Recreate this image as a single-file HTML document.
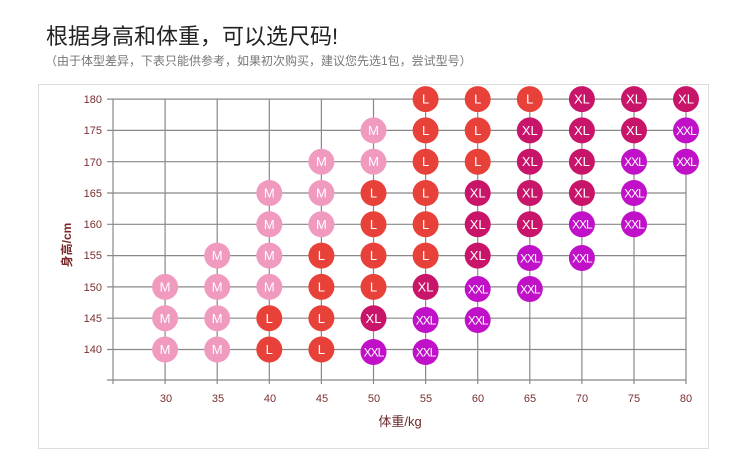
<!DOCTYPE html>
<html><head><meta charset="utf-8"><style>
body{margin:0;background:#fff;width:750px;height:465px;overflow:hidden;font-family:"Liberation Sans","Noto Sans CJK SC",sans-serif}
</style></head><body>
<svg width="750" height="465" xmlns="http://www.w3.org/2000/svg" font-family="Liberation Sans, Noto Sans CJK SC, sans-serif">
<text x="46" y="44" font-size="22" fill="#222">根据身高和体重，可以选尺码!</text>
<text x="45" y="65" font-size="12" fill="#777">（由于体型差异，下表只能供参考，如果初次购买，建议您先选1包，尝试型号）</text>
<rect x="38.5" y="84.5" width="670" height="364" fill="none" stroke="#ddd"/>
<g stroke="#888" stroke-width="1.2">
<line x1="107" y1="99.1" x2="686" y2="99.1"/><line x1="107" y1="130.4" x2="686" y2="130.4"/><line x1="107" y1="161.7" x2="686" y2="161.7"/><line x1="107" y1="193" x2="686" y2="193"/><line x1="107" y1="224.3" x2="686" y2="224.3"/><line x1="107" y1="255.6" x2="686" y2="255.6"/><line x1="107" y1="286.9" x2="686" y2="286.9"/><line x1="107" y1="318.2" x2="686" y2="318.2"/><line x1="107" y1="349.5" x2="686" y2="349.5"/><line x1="107" y1="380" x2="686" y2="380"/>
<line x1="113" y1="99" x2="113" y2="384"/><line x1="165.1" y1="99" x2="165.1" y2="384"/><line x1="217.2" y1="99" x2="217.2" y2="384"/><line x1="269.3" y1="99" x2="269.3" y2="384"/><line x1="321.4" y1="99" x2="321.4" y2="384"/><line x1="373.5" y1="99" x2="373.5" y2="384"/><line x1="425.6" y1="99" x2="425.6" y2="384"/><line x1="477.7" y1="99" x2="477.7" y2="384"/><line x1="529.8" y1="99" x2="529.8" y2="384"/><line x1="581.9" y1="99" x2="581.9" y2="384"/><line x1="634" y1="99" x2="634" y2="384"/><line x1="686" y1="99" x2="686" y2="384"/>
</g>
<g font-size="11" fill="#7a3030" text-anchor="end">
<text x="102" y="103">180</text><text x="102" y="134">175</text><text x="102" y="166">170</text><text x="102" y="197">165</text><text x="102" y="228">160</text><text x="102" y="259">155</text><text x="102" y="291">150</text><text x="102" y="322">145</text><text x="102" y="353">140</text>
</g>
<g font-size="11" fill="#7a3030" text-anchor="middle">
<text x="166" y="402">30</text><text x="218" y="402">35</text><text x="270" y="402">40</text><text x="322" y="402">45</text><text x="374" y="402">50</text><text x="426" y="402">55</text><text x="478" y="402">60</text><text x="530" y="402">65</text><text x="582" y="402">70</text><text x="634" y="402">75</text><text x="686" y="402">80</text>
</g>
<text x="400" y="426" font-size="13" fill="#6a2a2a" text-anchor="middle">体重/kg</text>
<text transform="translate(71,245) rotate(-90)" font-size="12" fill="#7a2a2a" text-anchor="middle" font-weight="bold">身高/cm</text>
<g font-size="13" fill="#fff" text-anchor="middle" stroke="none">
<!-- M -->
<g fill="#f09ac0"><circle cx="165.1" cy="349.5" r="13"/><circle cx="217.2" cy="349.5" r="13"/><circle cx="165.1" cy="318.2" r="13"/><circle cx="217.2" cy="318.2" r="13"/><circle cx="165.1" cy="286.9" r="13"/><circle cx="217.2" cy="286.9" r="13"/><circle cx="269.3" cy="286.9" r="13"/><circle cx="217.2" cy="255.6" r="13"/><circle cx="269.3" cy="255.6" r="13"/><circle cx="269.3" cy="224.3" r="13"/><circle cx="321.4" cy="224.3" r="13"/><circle cx="269.3" cy="193" r="13"/><circle cx="321.4" cy="193" r="13"/><circle cx="321.4" cy="161.7" r="13"/><circle cx="373.5" cy="161.7" r="13"/><circle cx="373.5" cy="130.4" r="13"/></g>
<g fill="#e8413a"><circle cx="269.3" cy="349.5" r="13"/><circle cx="321.4" cy="349.5" r="13"/><circle cx="269.3" cy="318.2" r="13"/><circle cx="321.4" cy="318.2" r="13"/><circle cx="321.4" cy="286.9" r="13"/><circle cx="373.5" cy="286.9" r="13"/><circle cx="321.4" cy="255.6" r="13"/><circle cx="373.5" cy="255.6" r="13"/><circle cx="425.6" cy="255.6" r="13"/><circle cx="373.5" cy="224.3" r="13"/><circle cx="425.6" cy="224.3" r="13"/><circle cx="373.5" cy="193" r="13"/><circle cx="425.6" cy="193" r="13"/><circle cx="425.6" cy="161.7" r="13"/><circle cx="477.7" cy="161.7" r="13"/><circle cx="425.6" cy="130.4" r="13"/><circle cx="477.7" cy="130.4" r="13"/><circle cx="425.6" cy="99.1" r="13"/><circle cx="477.7" cy="99.1" r="13"/><circle cx="529.8" cy="99.1" r="13"/></g>
<g fill="#c8156a"><circle cx="373.5" cy="318.2" r="13"/><circle cx="425.6" cy="286.9" r="13"/><circle cx="477.7" cy="255.6" r="13"/><circle cx="477.7" cy="224.3" r="13"/><circle cx="529.8" cy="224.3" r="13"/><circle cx="477.7" cy="193" r="13"/><circle cx="529.8" cy="193" r="13"/><circle cx="581.9" cy="193" r="13"/><circle cx="529.8" cy="161.7" r="13"/><circle cx="581.9" cy="161.7" r="13"/><circle cx="529.8" cy="130.4" r="13"/><circle cx="581.9" cy="130.4" r="13"/><circle cx="634" cy="130.4" r="13"/><circle cx="581.9" cy="99.1" r="13"/><circle cx="634" cy="99.1" r="13"/><circle cx="686" cy="99.1" r="13"/></g>
<g fill="#c010c8"><circle cx="373.5" cy="352" r="13"/><circle cx="425.6" cy="352" r="13"/><circle cx="425.6" cy="320" r="13"/><circle cx="477.7" cy="320" r="13"/><circle cx="477.7" cy="289" r="13"/><circle cx="529.8" cy="289" r="13"/><circle cx="529.8" cy="258" r="13"/><circle cx="581.9" cy="258" r="13"/><circle cx="581.9" cy="224.3" r="13"/><circle cx="634" cy="224.3" r="13"/><circle cx="634" cy="193" r="13"/><circle cx="634" cy="161.7" r="13"/><circle cx="686" cy="161.7" r="13"/><circle cx="686" cy="130.4" r="13"/></g>
<!-- labels -->
<text x="165.1" y="354">M</text><text x="217.2" y="354">M</text><text x="165.1" y="323">M</text><text x="217.2" y="323">M</text><text x="165.1" y="291.5">M</text><text x="217.2" y="291.5">M</text><text x="269.3" y="291.5">M</text><text x="217.2" y="260">M</text><text x="269.3" y="260">M</text><text x="269.3" y="229">M</text><text x="321.4" y="229">M</text><text x="269.3" y="197.5">M</text><text x="321.4" y="197.5">M</text><text x="321.4" y="166">M</text><text x="373.5" y="166">M</text><text x="373.5" y="135">M</text>
<text x="269.3" y="354">L</text><text x="321.4" y="354">L</text><text x="269.3" y="323">L</text><text x="321.4" y="323">L</text><text x="321.4" y="291.5">L</text><text x="373.5" y="291.5">L</text><text x="321.4" y="260">L</text><text x="373.5" y="260">L</text><text x="425.6" y="260">L</text><text x="373.5" y="229">L</text><text x="425.6" y="229">L</text><text x="373.5" y="197.5">L</text><text x="425.6" y="197.5">L</text><text x="425.6" y="166">L</text><text x="477.7" y="166">L</text><text x="425.6" y="135">L</text><text x="477.7" y="135">L</text><text x="425.6" y="103.6">L</text><text x="477.7" y="103.6">L</text><text x="529.8" y="103.6">L</text>
<text x="373.5" y="323">XL</text><text x="425.6" y="291.5">XL</text><text x="477.7" y="260">XL</text><text x="477.7" y="229">XL</text><text x="529.8" y="229">XL</text><text x="477.7" y="197.5">XL</text><text x="529.8" y="197.5">XL</text><text x="581.9" y="197.5">XL</text><text x="529.8" y="166">XL</text><text x="581.9" y="166">XL</text><text x="529.8" y="135">XL</text><text x="581.9" y="135">XL</text><text x="634" y="135">XL</text><text x="581.9" y="103.6">XL</text><text x="634" y="103.6">XL</text><text x="686" y="103.6">XL</text>
<g font-size="12" letter-spacing="-1"><text x="373.5" y="356.5">XXL</text><text x="425.6" y="356.5">XXL</text><text x="425.6" y="324.5">XXL</text><text x="477.7" y="324.5">XXL</text><text x="477.7" y="293.5">XXL</text><text x="529.8" y="293.5">XXL</text><text x="529.8" y="262.5">XXL</text><text x="581.9" y="262.5">XXL</text><text x="581.9" y="228.5">XXL</text><text x="634" y="228.5">XXL</text><text x="634" y="197.5">XXL</text><text x="634" y="166">XXL</text><text x="686" y="166">XXL</text><text x="686" y="135">XXL</text></g>
</g>
</svg>
</body></html>
